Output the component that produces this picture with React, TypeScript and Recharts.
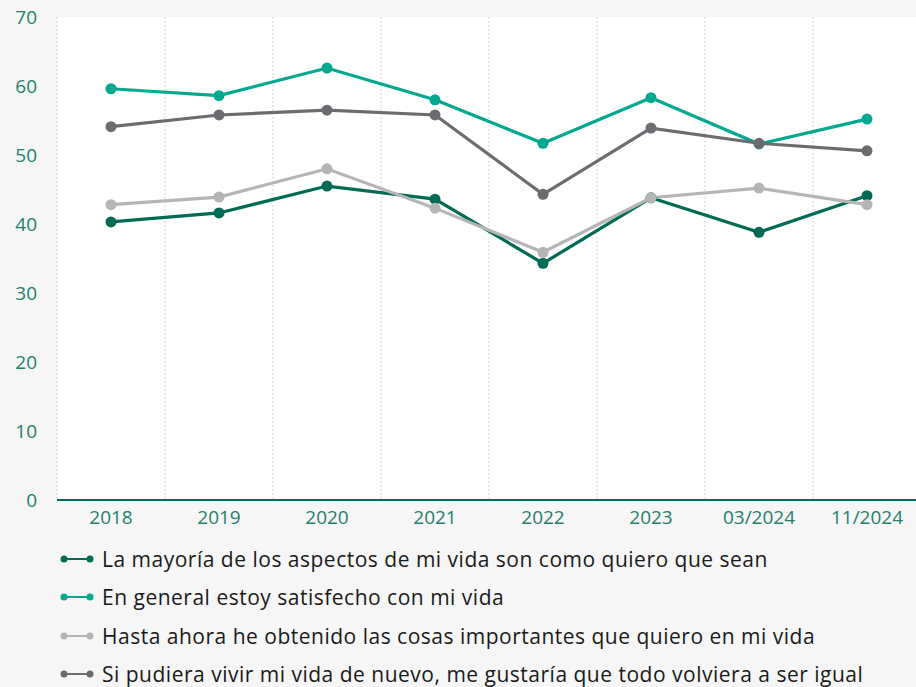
import React from "react";
import { LineChart, Line, XAxis, YAxis, CartesianGrid, Legend } from "recharts";

const categories = ["2018", "2019", "2020", "2021", "2022", "2023", "03/2024", "11/2024"];
const mayoria = [40.3, 41.6, 45.5, 43.6, 34.3, 43.8, 38.8, 44.1];
const satisfecho = [59.6, 58.6, 62.6, 58.0, 51.7, 58.3, 51.6, 55.2];
const obtenido = [42.8, 43.9, 48.0, 42.3, 35.9, 43.8, 45.2, 42.8];
const vivir = [54.1, 55.8, 56.5, 55.8, 44.3, 53.9, 51.7, 50.6];
const yTicks = [0, 10, 20, 30, 40, 50, 60, 70];

const series = [
  { key: "mayoria", name: "La mayoría de los aspectos de mi vida son como quiero que sean", color: "#006b54", values: mayoria },
  { key: "satisfecho", name: "En general estoy satisfecho con mi vida", color: "#00a88f", values: satisfecho },
  { key: "obtenido", name: "Hasta ahora he obtenido las cosas importantes que quiero en mi vida", color: "#b5b5b5", values: obtenido },
  { key: "vivir", name: "Si pudiera vivir mi vida de nuevo, me gustaría que todo volviera a ser igual", color: "#6b6b70", values: vivir },
];

const data = categories.map((c, i) => {
  const row: Record<string, string | number> = { cat: c };
  series.forEach((s) => (row[s.key] = s.values[i]));
  return row;
});

const FONT = "'Open Sans', sans-serif";
const TICK_COLOR = "#23806d";

const LegendContent = () => (
  <div style={{ height: 147, paddingLeft: 58, boxSizing: "border-box", paddingTop: 0 }}>
    {series.map((s) => (
      <div key={s.key} style={{ display: "flex", alignItems: "center", height: 38.3 }}>
        <svg width={38} height={12} style={{ marginRight: 6 }}>
          <line x1={6} y1={6} x2={32} y2={6} stroke={s.color} strokeWidth={2} />
          <circle cx={6} cy={6} r={3.5} fill={s.color} />
          <circle cx={32} cy={6} r={3.5} fill={s.color} />
        </svg>
        <span style={{ fontFamily: FONT, fontSize: 21, letterSpacing: 0.5, color: "#1a1a1a", whiteSpace: "nowrap" }}>{s.name}</span>
      </div>
    ))}
  </div>
);

export default function App() {
  return (
    <div style={{ position: "absolute", left: 0, top: 0, width: 916, height: 687, overflow: "hidden", background: "#f6f6f6" }}>
      <LineChart width={921} height={687} data={data} margin={{ top: 17, right: 0, bottom: 0, left: 0 }}>
        <CartesianGrid
          horizontal={false}
          vertical={true}
          fill="#ffffff"
          stroke="#c4c4c4"
          strokeDasharray="1.5 2.5"
          verticalCoordinatesGenerator={({ offset }: any) =>
            categories.map((_, i) => offset.left + (i * offset.width) / categories.length)
          }
        />
        <XAxis
          dataKey="cat"
          scale="band"
          height={40}
          axisLine={{ stroke: "#006b54", strokeWidth: 2 }}
          tickLine={false}
          tickMargin={5}
          tick={{ fill: TICK_COLOR, fontSize: 19, fontFamily: FONT }}
          interval={0}
        />
        <YAxis
          width={57}
          domain={[0, 70]}
          ticks={yTicks}
          axisLine={false}
          tickLine={false}
          tickMargin={14}
          tick={{ fill: TICK_COLOR, fontSize: 19, fontFamily: FONT }}
        />
        <Legend verticalAlign="bottom" align="left" content={<LegendContent />} />
        {series.map((s) => (
          <Line
            key={s.key}
            dataKey={s.key}
            name={s.name}
            stroke={s.color}
            strokeWidth={3.2}
            dot={{ r: 5.5, fill: s.color, stroke: s.color, strokeWidth: 0 }}
            activeDot={false}
            isAnimationActive={false}
          />
        ))}
      </LineChart>
    </div>
  );
}
